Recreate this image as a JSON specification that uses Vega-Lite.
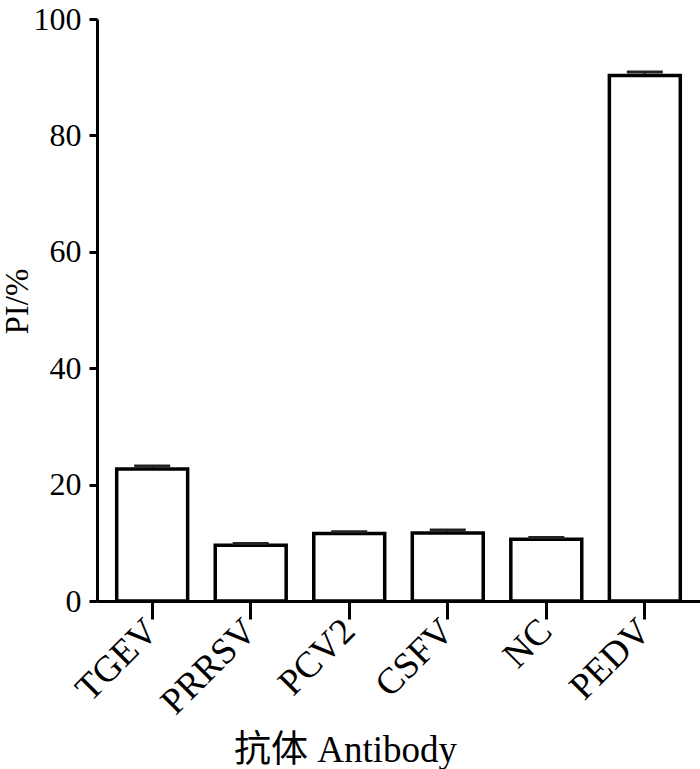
{
  "$schema": "https://vega.github.io/schema/vega-lite/v6.json",
  "width": 603,
  "height": 582,
  "autosize": {"type": "none"},
  "padding": {"left": 97, "top": 19, "right": 0, "bottom": 168},
  "background": "white",
  "config": {"view": {"stroke": null}},
  "data": {
    "values": [
      {"antibody": "TGEV", "pi": 22.7, "upper": 23.2},
      {"antibody": "PRRSV", "pi": 9.6, "upper": 9.9},
      {"antibody": "PCV2", "pi": 11.6, "upper": 11.9},
      {"antibody": "CSFV", "pi": 11.7, "upper": 12.2},
      {"antibody": "NC", "pi": 10.6, "upper": 10.9},
      {"antibody": "PEDV", "pi": 90.3, "upper": 90.9}
    ]
  },
  "encoding": {
    "x": {
      "field": "antibody",
      "type": "nominal",
      "sort": null,
      "scale": {"paddingInner": 0.28, "paddingOuter": 0.2},
      "axis": {
        "title": "抗体  Antibody",
        "titleFont": "Liberation Serif, Noto Sans CJK SC",
        "titleFontSize": 37,
        "titleFontWeight": "normal",
        "titleColor": "black",
        "titleX": 248,
        "titleY": 160,
        "titleAlign": "center",
        "titleBaseline": "alphabetic",
        "labelFont": "Liberation Serif",
        "labelFontSize": 37,
        "labelColor": "black",
        "labelAngle": -45,
        "labelAlign": "right",
        "labelBaseline": "middle",
        "labelPadding": 6,
        "domainColor": "black",
        "domainWidth": 3,
        "tickColor": "black",
        "tickWidth": 3,
        "tickSize": 18
      }
    }
  },
  "layer": [
    {
      "mark": {"type": "bar", "fill": "white", "stroke": "black", "strokeWidth": 3.5},
      "encoding": {
        "y": {
          "field": "pi",
          "type": "quantitative",
          "scale": {"domain": [0, 100], "nice": false},
          "axis": {
            "title": "PI/%",
            "titleFont": "Liberation Serif",
            "titleFontSize": 33,
            "titleFontWeight": "normal",
            "titleColor": "black",
            "titleX": -70,
            "titleY": 282,
            "titleAlign": "center",
            "titleBaseline": "alphabetic",
            "titleAngle": -90,
            "values": [0, 20, 40, 60, 80, 100],
            "grid": false,
            "labelFont": "Liberation Serif",
            "labelFontSize": 32,
            "labelColor": "black",
            "labelPadding": 8,
            "domainColor": "black",
            "domainWidth": 3,
            "tickColor": "black",
            "tickWidth": 3,
            "tickSize": 8
          }
        }
      }
    },
    {
      "mark": {"type": "rule", "stroke": "black", "strokeWidth": 2},
      "encoding": {
        "y": {"field": "pi", "type": "quantitative"},
        "y2": {"field": "upper"}
      }
    },
    {
      "mark": {"type": "tick", "color": "#222", "size": 36, "thickness": 3, "opacity": 1},
      "encoding": {
        "y": {"field": "upper", "type": "quantitative"}
      }
    }
  ]
}
